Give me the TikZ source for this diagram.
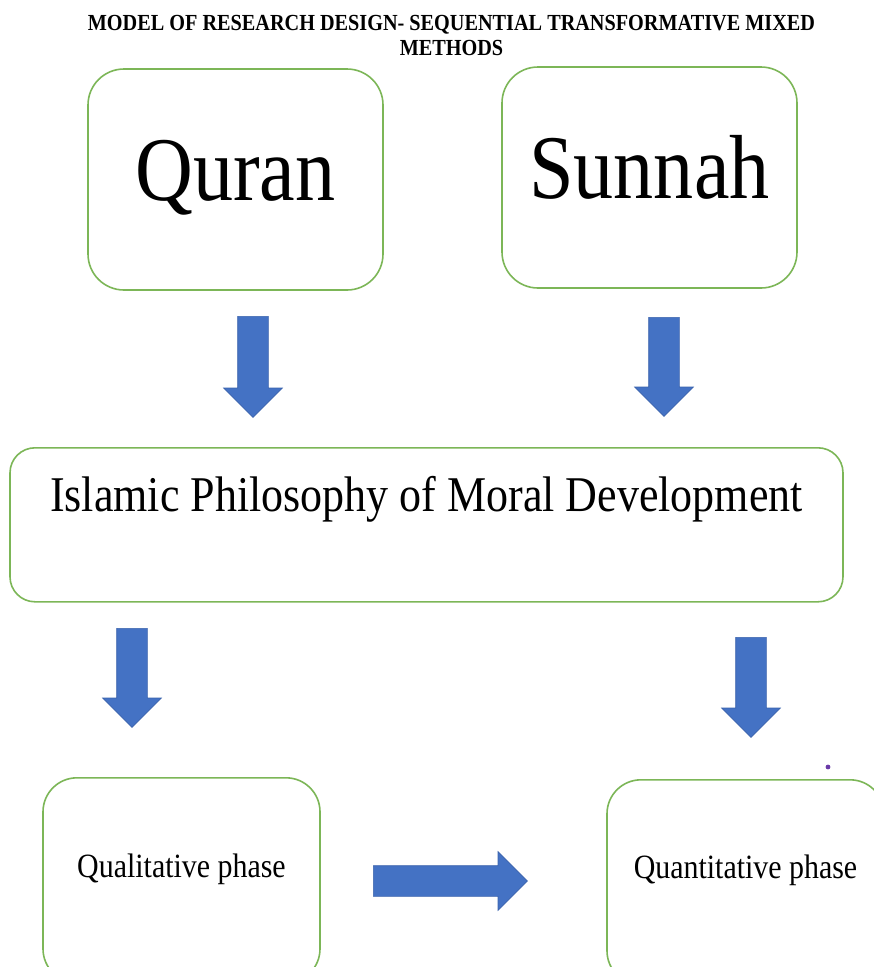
\documentclass[tikz,border=0pt]{standalone}
\usepackage{fontspec}
\setmainfont{Liberation Serif}[FakeStretch=0.88]
\usepackage{tikz}
\usetikzlibrary{arrows.meta,positioning,calc,shapes.arrows}
\definecolor{boxgreen}{HTML}{7CB657}
\definecolor{arrowblue}{HTML}{4472C4}
\definecolor{arrowedge}{HTML}{3A62AC}
\definecolor{dotpurple}{HTML}{6A3AA8}
\tikzset{
  every picture/.append style={line width=0.6pt},
}

\begin{document}
\begin{tikzpicture}[
  x=1pt, y=-1pt,
  phase/.style  ={draw=boxgreen, line width=1.6pt, fill=white, inner sep=0pt, align=center},
  bigword/.style={font=\fontsize{91}{100}\selectfont, text height=62pt, text depth=20pt,
                  minimum width=295pt, minimum height=221pt, rounded corners=36pt},
  blk/.style    ={single arrow, draw=arrowedge, fill=arrowblue, line width=0.7pt,
                  inner xsep=0pt, inner ysep=15pt, minimum width=0pt,
                  single arrow head extend=14pt, anchor=tail},
  headline/.style={font=\fontsize{23}{25}\selectfont\bfseries, align=center}
]
\useasboundingbox (0,0) rectangle (874,967);
\clip (0,0) rectangle (874,967);

\node[headline] (title) at (451.5,35)
  {MODEL OF RESEARCH DESIGN- SEQUENTIAL TRANSFORMATIVE MIXED\\METHODS};

% sources
\node[phase, bigword] (quran)  at (235.5,179.5) {Quran};
\node[phase, bigword] (sunnah) at (649.5,177.5) {Sunnah};

% philosophy
\node[phase, anchor=north, minimum width=833pt, rounded corners=25pt,
      font=\fontsize{50}{60}\selectfont, text height=64pt, text depth=90pt]
  (islam) at (426.5,447) {Islamic Philosophy of Moral Development};

% phases
\node[phase, anchor=north, minimum width=277pt, rounded corners=34pt,
      font=\fontsize{34}{40}\selectfont, text height=100pt, text depth=105pt]
  (qual) at (181.5,777) {Qualitative phase};
\node[phase, anchor=north, minimum width=277pt, rounded corners=34pt,
      font=\fontsize{34}{40}\selectfont, text height=99pt, text depth=106pt]
  (quant) at (745.5,779) {Quantitative phase};

% block arrows
\node[blk, rotate=-90, minimum height=101pt] (a1) at (253,316) {};
\node[blk, rotate=-90, minimum height=99pt]  (a2) at (664,317) {};
\node[blk, rotate=-90, minimum height=99pt]  (a3) at (132,628) {};
\node[blk, rotate=-90, minimum height=100pt] (a4) at (751,637) {};
\node[blk, minimum height=154pt] (a5) at (373,881) {};

\fill[dotpurple] (828,767) circle (2.4pt);

\end{tikzpicture}
\end{document}
